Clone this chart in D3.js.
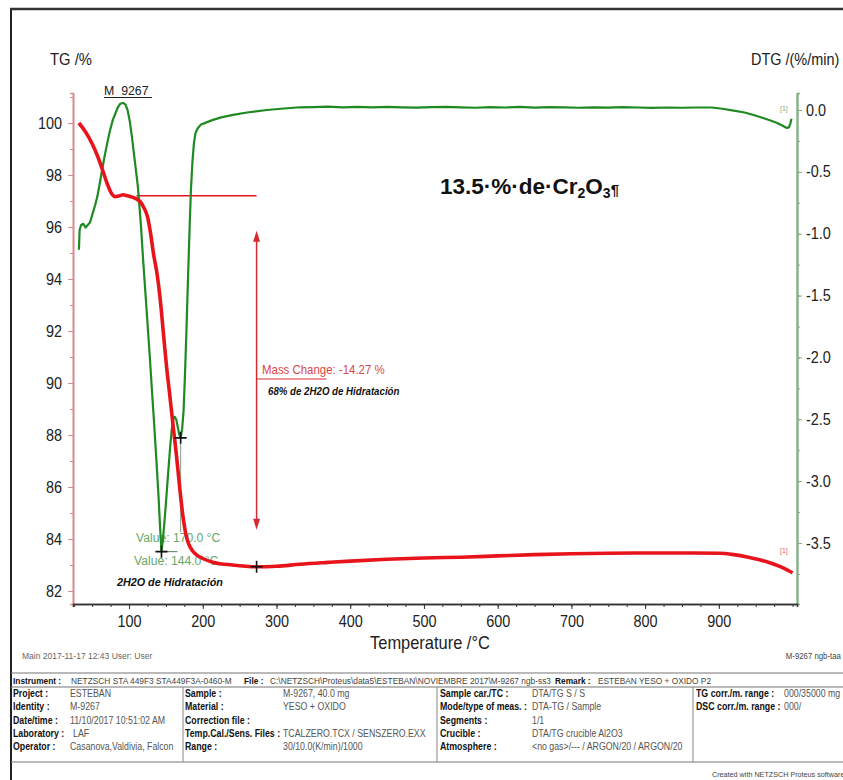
<!DOCTYPE html>
<html>
<head>
<meta charset="utf-8">
<script src="https://cdn.jsdelivr.net/npm/d3@7"></script>
<style>
  body { margin: 0; background: #fff; }
  svg { display: block; }
  text { font-family: "Liberation Sans", Arial, sans-serif; }
</style>
</head>
<body>
<svg id="chart" width="843" height="780"></svg>
<script>
// ---- measured series: STA 449 F3, sample M-9267 (yeso + óxido) ----
const tgTemp = [32, 40, 50, 57, 64, 70, 75, 81, 87, 92, 98, 104, 110, 115, 120, 125, 129, 133, 138, 142,
  147, 151, 155, 160, 164, 169, 173, 177, 181, 186, 192, 200, 215, 240, 273, 300, 332, 370, 400, 450,
  500, 550, 600, 650, 700, 750, 800, 850, 900, 920, 940, 955, 970, 985, 1000];
const tgPercent = [100.0, 99.7, 99.2, 98.75, 98.2, 97.7, 97.35, 97.17, 97.2, 97.24, 97.2, 97.15, 97.08, 96.98, 96.75, 96.4, 95.8, 95.0, 94.2, 93.3,
  91.8, 90.6, 89.6, 88.3, 87.3, 85.9, 84.9, 84.2, 83.8, 83.55, 83.38, 83.25, 83.1, 83.0, 82.93, 82.95, 83.03, 83.1, 83.15, 83.22,
  83.27, 83.3, 83.35, 83.4, 83.43, 83.45, 83.46, 83.46, 83.45, 83.4, 83.3, 83.2, 83.08, 82.92, 82.7];

const dtgTemp = [32, 33, 35, 38, 41, 44, 47, 51, 54, 57, 61, 66, 70, 74, 78, 82, 85, 88, 92, 95,
  98, 101, 104, 108, 112, 116, 119, 122, 125, 128, 131, 134, 137, 140, 142, 144, 146, 148, 150, 152,
  154, 156, 158, 160, 162, 164, 166, 168, 170, 172, 174, 176, 178, 180, 182, 184, 186, 188, 190, 193,
  197, 205, 214, 225, 241, 260, 287, 310, 332, 350, 370, 390, 410, 430, 450, 470, 490, 510, 530, 550,
  570, 590, 610, 630, 650, 670, 690, 710, 730, 750, 770, 790, 810, 830, 850, 870, 890, 905, 920, 935,
  947, 960, 970, 979, 986, 992, 995, 997, 998.5];
const dtgRate = [-1.13, -0.97, -0.93, -0.92, -0.95, -0.93, -0.91, -0.83, -0.77, -0.70, -0.57, -0.40, -0.28, -0.17, -0.08, -0.02, 0.024, 0.05, 0.057, 0.045,
  0.0, -0.09, -0.22, -0.42, -0.62, -0.92, -1.20, -1.46, -1.72, -1.98, -2.26, -2.53, -2.82, -3.12, -3.36, -3.57, -3.47, -3.33, -3.18, -3.02,
  -2.86, -2.71, -2.58, -2.50, -2.48, -2.50, -2.56, -2.62, -2.65, -2.58, -2.43, -2.12, -1.76, -1.36, -0.98, -0.64, -0.42, -0.27, -0.19, -0.15,
  -0.12, -0.10, -0.08, -0.06, -0.04, -0.02, 0.0, 0.012, 0.022, 0.024, 0.027, 0.022, 0.026, 0.021, 0.025, 0.022, 0.019, 0.023, 0.026, 0.021,
  0.018, 0.023, 0.02, 0.025, 0.019, 0.023, 0.021, 0.018, 0.022, 0.019, 0.023, 0.02, 0.017, 0.02, 0.018, 0.02, 0.02, 0.01, -0.005, -0.02,
  -0.04, -0.065, -0.085, -0.105, -0.125, -0.145, -0.14, -0.11, -0.07];

const tempTicks = [100, 200, 300, 400, 500, 600, 700, 800, 900];
const tgTicks = [82, 84, 86, 88, 90, 92, 94, 96, 98, 100];
const dtgTicks = [0, -0.5, -1.0, -1.5, -2.0, -2.5, -3.0, -3.5];

// DTG peak evaluations and TG step evaluation
const peakTemps = [144.0, 170.0];
const peakRates = [-3.57, -2.65];
const stepTemp = 273;
const stepStart = 97.20;
const stepChange = -14.27;

// header/footer table of the measurement
const headerParts = [["Instrument :", 13, true], ["NETZSCH STA 449F3 STA449F3A-0460-M", 71, false],
  ["File :", 244, true], ["C:\\NETZSCH\\Proteus\\data5\\ESTEBAN\\NOVIEMBRE 2017\\M-9267 ngb-ss3", 270, false],
  ["Remark :", 555, true], ["ESTEBAN YESO + OXIDO P2", 598, false]];
const colLabels = [
  ["Project :", "Identity :", "Date/time :", "Laboratory :", "Operator :"],
  ["Sample :", "Material :", "Correction file :", "Temp.Cal./Sens. Files :", "Range :"],
  ["Sample car./TC :", "Mode/type of meas. :", "Segments :", "Crucible :", "Atmosphere :"],
  ["TG corr./m. range :", "DSC corr./m. range :", "", "", ""]];
const colValues = [
  ["ESTEBAN", "M-9267", "11/10/2017 10:51:02 AM", "LAF", "Casanova,Valdivia, Falcon"],
  ["M-9267, 40.0 mg", "YESO  + OXIDO", "", "TCALZERO.TCX / SENSZERO.EXX", "30/10.0(K/min)/1000"],
  ["DTA/TG S / S", "DTA-TG / Sample", "1/1", "DTA/TG crucible Al2O3", "<no gas>/--- / ARGON/20 / ARGON/20"],
  ["000/35000 mg", "000/", "", "", ""]];
const colLabelX = [13, 185, 440, 696];
const colValueX = [70, 283, 532, 784];
const colValueXAlt = { "LAF": 73, "000/": 784 };

// ---- layout ----
const svg = d3.select("#chart");
const plot = { left: 73, right: 797, top: 93, bottom: 604 };
const RED = "#e8141c", GREEN = "#1f8a22";

const x = d3.scaleLinear().domain([24, 1006]).range([plot.left, plot.right]);
const yTG = d3.scaleLinear().domain([81.5, 101.154]).range([plot.bottom, plot.top]);
const yDTG = d3.scaleLinear().domain([-3.993, 0.1374]).range([plot.bottom, plot.top]);

// text with horizontally narrowed glyphs; anchor is resolved before narrowing
function label(xx, yy, txt, size, opts = {}) {
  const k = opts.k || 0.87;
  const t = svg.append("text").attr("x", 0).attr("y", 0).attr("font-size", size)
    .attr("fill", opts.fill || "#222").text(txt);
  if (opts.bold) t.attr("font-weight", "bold");
  if (opts.italic) t.attr("font-style", "italic");
  const w = t.node().getComputedTextLength() * k;
  const left = opts.anchor === "middle" ? xx - w / 2 : opts.anchor === "end" ? xx - w : xx;
  t.attr("transform", `translate(${left},${yy}) scale(${k},1)`);
  return t;
}

// outer frame
svg.append("line").attr("x1", 11).attr("x2", 11).attr("y1", 8).attr("y2", 780).attr("stroke", "#222").attr("stroke-width", 2);
svg.append("line").attr("x1", 10).attr("x2", 843).attr("y1", 9).attr("y2", 9).attr("stroke", "#333").attr("stroke-width", 2.5);

// axis titles
label(50, 65, "TG /%", 17);
label(751, 65, "DTG /(%/min)", 17, { k: 0.85 });
label(430, 649, "Temperature /°C", 17.5, { anchor: "middle", k: 0.94 });

// axes
const hyphenFmt = f => d => f(d).replace("−", "-");
function styleAxis(g, color, labelSize) {
  g.select(".domain").attr("stroke", color).attr("stroke-width", 1.6);
  g.selectAll(".tick line").attr("stroke", color);
  g.selectAll(".tick text").attr("fill", "#222").attr("font-size", labelSize)
    .attr("font-family", "\"Liberation Sans\", Arial, sans-serif")
    .each(function () {
      const len = this.getComputedTextLength();
      if (len > 0) d3.select(this).attr("textLength", len * 0.9).attr("lengthAdjust", "spacingAndGlyphs");
    });
}
const leftMinor = svg.append("g").attr("transform", `translate(${plot.left},0)`)
  .call(d3.axisLeft(yTG).tickValues(d3.range(82, 102, 1)).tickSize(3).tickFormat(""));
styleAxis(leftMinor, "#d98a8c", 16);
const leftAxis = svg.append("g").attr("transform", `translate(${plot.left},0)`)
  .call(d3.axisLeft(yTG).tickValues(tgTicks).tickSize(5).tickSizeOuter(0).tickPadding(6).tickFormat(d3.format("d")));
styleAxis(leftAxis, "#d98a8c", 16);

const rightMinor = svg.append("g").attr("transform", `translate(${plot.right},0)`)
  .call(d3.axisRight(yDTG).tickValues(d3.range(-3.75, 0.01, 0.25)).tickSize(3).tickFormat(""));
styleAxis(rightMinor, "#7fae7f", 16);
const rightAxis = svg.append("g").attr("transform", `translate(${plot.right},0)`)
  .call(d3.axisRight(yDTG).tickValues(dtgTicks).tickSize(5).tickSizeOuter(0).tickPadding(4).tickFormat(hyphenFmt(d3.format(".1f"))));
styleAxis(rightAxis, "#7fae7f", 16);
rightAxis.select(".domain").attr("stroke-width", 2);

const bottomMinor = svg.append("g").attr("transform", `translate(0,${plot.bottom})`)
  .call(d3.axisBottom(x).tickValues(d3.range(25, 1001, 25)).tickSize(3).tickFormat(""));
styleAxis(bottomMinor, "#333", 16);
const bottomAxis = svg.append("g").attr("transform", `translate(0,${plot.bottom})`)
  .call(d3.axisBottom(x).tickValues(tempTicks).tickSize(5).tickSizeOuter(0).tickPadding(7).tickFormat(d3.format("d")));
styleAxis(bottomAxis, "#333", 16);

// sample name
label(104, 95, "M_9267", 13, { k: 0.95 });
svg.append("line").attr("x1", 104).attr("x2", 152).attr("y1", 97.5).attr("y2", 97.5).attr("stroke", "#222").attr("stroke-width", 1);

// composition note
const note = svg.append("text").attr("x", 440).attr("y", 194).attr("font-size", 22.5).attr("font-weight", "bold")
  .attr("font-family", "Lato, 'Open Sans', sans-serif").attr("fill", "#111");
note.append("tspan").text("13.5·%·de·Cr");
note.append("tspan").attr("font-size", 14).attr("dy", 4).text("2");
note.append("tspan").attr("dy", -4).text("O");
note.append("tspan").attr("font-size", 14).attr("dy", 4).text("3");
note.append("tspan").attr("font-size", 15).attr("dy", -3).text("¶");

// peak evaluation labels (drawn beneath the curves)
const peakLabelX = [134, 136];
const peakLabelY = [565, 542];
peakTemps.forEach((t, i) => {
  label(peakLabelX[i], peakLabelY[i], `Value: ${t.toFixed(1)} °C`, 13.5, { fill: "#68a868", k: 0.9 });
});
// leader lines from the evaluated points
svg.append("line").attr("x1", x(peakTemps[1])).attr("x2", x(peakTemps[1]))
  .attr("y1", yDTG(peakRates[1])).attr("y2", 532).attr("stroke", "#8a9a8a").attr("stroke-width", 1);
svg.append("line").attr("x1", x(peakTemps[0])).attr("x2", x(peakTemps[0]) + 16)
  .attr("y1", yDTG(peakRates[0])).attr("y2", yDTG(peakRates[0])).attr("stroke", "#5a7a5a").attr("stroke-width", 1);
label(117, 586, "2H2O de Hidratación", 11, { bold: true, italic: true, fill: "#111", k: 0.98 });

// TG step evaluation
const stepEnd = stepStart + stepChange;
svg.append("line").attr("x1", x(110)).attr("x2", x(stepTemp)).attr("y1", yTG(stepStart)).attr("y2", yTG(stepStart))
  .attr("stroke", RED).attr("stroke-width", 1.6);
const arrowTop = yTG(stepStart) + 35, arrowBottom = yTG(stepEnd) - 37;
const ax = x(stepTemp);
svg.append("line").attr("x1", ax).attr("x2", ax).attr("y1", arrowTop + 6).attr("y2", arrowBottom - 6)
  .attr("stroke", "#d42a30").attr("stroke-width", 1.5);
svg.append("path").attr("d", `M${ax},${arrowTop} L${ax - 3.5},${arrowTop + 11} L${ax + 3.5},${arrowTop + 11} Z`).attr("fill", "#d42a30");
svg.append("path").attr("d", `M${ax},${arrowBottom} L${ax - 3.5},${arrowBottom - 11} L${ax + 3.5},${arrowBottom - 11} Z`).attr("fill", "#d42a30");
svg.append("line").attr("x1", ax).attr("x2", ax + 70).attr("y1", 379).attr("y2", 379).attr("stroke", "#d42a30").attr("stroke-width", 1);
label(262, 374, `Mass Change: ${stepChange.toFixed(2)} %`, 13, { fill: "#d8454a", k: 0.88 });
label(268, 395, "68% de 2H2O de Hidratación", 10, { bold: true, italic: true, fill: "#111", k: 0.97 });

// curves
const dtgLine = d3.line().x(d => x(d[0])).y(d => yDTG(d[1]));
svg.append("path").datum(d3.zip(dtgTemp, dtgRate)).attr("d", dtgLine)
  .attr("fill", "none").attr("stroke", GREEN).attr("stroke-width", 2.2).attr("stroke-linejoin", "round");
const tgLine = d3.line().curve(d3.curveMonotoneX).x(d => x(d[0])).y(d => yTG(d[1]));
svg.append("path").datum(d3.zip(tgTemp, tgPercent)).attr("d", tgLine)
  .attr("fill", "none").attr("stroke", RED).attr("stroke-width", 3.6).attr("stroke-linejoin", "round");

// evaluation crosses
function cross(cx, cy) {
  svg.append("path").attr("d", `M${cx - 6},${cy} H${cx + 6} M${cx},${cy - 6} V${cy + 6}`)
    .attr("stroke", "#111").attr("stroke-width", 1.6);
}
peakTemps.forEach((t, i) => cross(x(t), yDTG(peakRates[i])));
cross(x(stepTemp), yTG(stepEnd));

// curve end tags
label(780, 111, "[1]", 8, { fill: "#7fae7f" });
label(780, 553, "[1]", 8, { fill: "#e06060" });

// footer
label(22, 659, "Main   2017-11-17 12:43   User: User", 8.5, { fill: "#666", k: 1.0 });
label(841, 659, "M-9267 ngb-taa", 8.5, { fill: "#444", anchor: "end", k: 0.92 });

const tableTop = 673, headerBottom = 687, rowH = 13.3, tableBottom = 762;
[tableTop, headerBottom, tableBottom].forEach(yy => svg.append("line").attr("x1", 11).attr("x2", 843)
  .attr("y1", yy).attr("y2", yy).attr("stroke", "#777").attr("stroke-width", 1.2));
[183, 437, 693].forEach(xx => svg.append("line").attr("x1", xx).attr("x2", xx)
  .attr("y1", headerBottom).attr("y2", tableBottom).attr("stroke", "#888").attr("stroke-width", 1));

headerParts.forEach(([txt, xx, bold]) => {
  label(xx, 684, txt, 9.7, { bold: bold, fill: bold ? "#111" : "#444", k: 0.86 });
});
colLabels.forEach((col, c) => {
  col.forEach((lab, r) => {
    const yy = headerBottom + 10 + r * rowH;
    if (lab) label(colLabelX[c], yy, lab, 10, { bold: true, fill: "#111", k: 0.88 });
    const val = colValues[c][r];
    if (val) label(colValueXAlt[val] || colValueX[c], yy, val, 10, { fill: "#555", k: 0.88 });
  });
});
label(712, 777, "Created with NETZSCH Proteus software", 8, { fill: "#444", k: 0.9 });
</script>
</body>
</html>
